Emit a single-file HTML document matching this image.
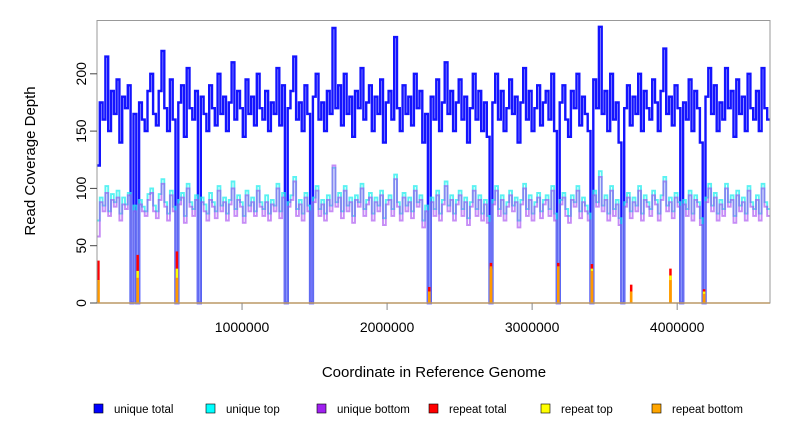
<!DOCTYPE html>
<html><head><meta charset="utf-8"><style>
body{margin:0;background:#fff;}
svg{display:block;font-family:"Liberation Sans",Arial,sans-serif;}
</style></head><body>
<svg id="chart" width="792" height="432" viewBox="0 0 792 432" xmlns="http://www.w3.org/2000/svg">
<g id="plot"></g>
<rect x="97" y="20.5" width="673" height="282.5" fill="none" stroke="#999" stroke-width="1"/>
<g id="axes"></g>
<text x="0" y="0" transform="translate(35,161) rotate(-90)" text-anchor="middle" font-size="15" fill="#000">Read Coverage Depth</text>
<text x="434" y="377" text-anchor="middle" font-size="15" fill="#000">Coordinate in Reference Genome</text>
<g id="legend"></g>
</svg>
<script>
const binSize = 19333;
const yTicks = [0, 50, 100, 150, 200];
const xTicks = [1000000, 2000000, 3000000, 4000000];
const uniqueTotal = [120,175,160,215,150,185,165,195,140,180,170,190,0,165,0,175,160,150,185,200,
165,155,185,220,170,150,195,160,0,175,190,145,205,170,160,185,0,180,165,150,
190,170,155,200,165,180,150,175,210,160,185,170,145,195,165,180,155,200,170,160,
185,150,175,165,205,155,190,0,170,185,215,160,175,150,190,165,0,180,200,160,
175,150,185,165,240,170,190,155,200,165,180,145,185,170,205,160,175,190,150,180,
165,195,140,175,185,160,232,170,150,190,165,180,155,200,170,185,140,165,0,180,
160,195,150,175,210,165,185,150,175,195,160,180,140,170,200,160,185,150,175,145,
0,175,200,160,185,150,170,195,165,180,140,175,205,160,185,150,170,190,155,175,
185,160,200,150,0,175,190,160,145,185,170,200,155,180,165,150,0,195,170,241,
165,185,150,200,160,175,140,0,170,190,155,180,165,200,150,185,170,160,195,175,
150,185,222,165,180,155,190,170,0,175,160,195,150,185,170,140,0,180,205,165,
190,150,175,160,205,170,185,145,195,165,180,150,200,170,160,185,150,205,170,160];
const uniqueTop = [72,92,85,102,80,95,88,98,78,92,86,96,0,85,0,90,84,80,95,100,
85,80,95,108,88,78,98,84,0,90,96,76,104,88,82,94,0,92,86,78,
96,88,80,102,85,92,78,90,106,82,94,88,76,98,85,92,80,102,88,82,
94,78,90,85,104,80,96,0,88,94,110,82,90,78,96,85,0,92,102,82,
90,78,94,85,118,88,96,80,102,85,92,76,94,88,104,82,90,96,78,92,
85,98,74,90,94,82,112,88,78,96,85,92,80,102,88,94,72,85,0,92,
82,98,78,90,106,85,94,78,90,98,82,92,74,88,102,82,94,78,90,76,
0,90,102,82,94,78,88,98,85,92,72,90,104,82,94,78,88,96,80,90,
94,82,102,78,0,90,96,82,76,94,88,102,80,92,85,78,0,98,88,115,
85,94,78,102,82,90,74,0,88,96,80,92,85,102,78,94,88,82,98,90,
78,94,110,85,92,80,96,88,0,90,82,98,78,94,88,74,0,92,104,85,
96,78,90,82,104,88,94,76,98,85,92,78,102,88,82,94,78,104,88,82];
const uniqueBottom = [58,88,80,96,76,90,84,92,72,86,82,94,0,80,0,86,80,76,90,96,
80,74,90,104,84,72,94,80,0,86,92,70,100,84,76,90,0,88,80,72,
90,84,74,98,80,88,72,86,100,76,90,84,70,94,80,88,76,98,84,76,
88,72,86,80,100,74,92,0,84,90,106,76,86,72,92,80,0,88,98,76,
86,72,90,80,120,84,92,74,98,80,88,70,90,84,100,76,86,92,72,88,
80,94,68,86,90,76,108,84,72,92,80,88,74,98,84,90,66,80,0,88,
76,94,72,86,102,80,90,72,86,94,76,88,68,84,98,76,90,72,86,70,
0,86,98,76,90,72,84,94,80,88,66,86,100,76,90,72,84,92,74,86,
90,76,98,72,0,86,92,76,70,90,84,98,74,88,80,72,0,94,84,110,
80,90,72,98,76,86,68,0,84,92,74,88,80,98,72,90,84,76,94,86,
72,90,106,80,88,74,92,84,0,86,76,94,72,90,84,68,0,88,100,80,
92,72,86,76,100,84,90,70,94,80,88,72,98,84,76,90,72,100,84,76];
const repeatBins = [0,14,28,118,140,164,176,190,204,216];
const repeatTotal = [37,42,45,14,35,35,34,16,30,12];
const repeatTop = [20,28,30,10,30,30,30,10,24,10];
const repeatBottom = [20,22,22,10,32,32,28,10,20,8];

const NS = "http://www.w3.org/2000/svg";
const X0 = 97, X1 = 770, XMAX = 4640000, Y0 = 303, YPER = 57.3/50;
function xs(v){ return X0 + (v / XMAX) * (X1 - X0); }
function ys(v){ return Y0 - v * YPER; }
function mk(tag, attrs, parent){ const e = document.createElementNS(NS, tag); for (const k in attrs) e.setAttribute(k, attrs[k]); parent.appendChild(e); return e; }
const plot = document.getElementById('plot');
const axes = document.getElementById('axes');
const legend = document.getElementById('legend');

function stepPath(arr){
  let d = '';
  arr.forEach((v, i) => {
    const xa = xs(i * binSize), xb = xs((i + 1) * binSize), y = ys(v);
    d += (i === 0 ? 'M' : 'L') + xa.toFixed(1) + ',' + y.toFixed(1) + 'L' + xb.toFixed(1) + ',' + y.toFixed(1);
  });
  return d;
}
const series = [
  [uniqueTotal, '#0000ff', 2.4, 0.92, 'unique-total-line'],
  [uniqueTop, '#22eeee', 1.9, 0.75, 'unique-top-line'],
  [uniqueBottom, '#a040f0', 1.9, 0.6, 'unique-bottom-line']
];
series.forEach(s => {
  const p = mk('path', {d: stepPath(s[0]), fill: 'none', stroke: s[1], 'stroke-width': s[2], 'stroke-opacity': s[3]}, plot);
  
  
});
const repSeries = [[repeatTotal, '#ff0000', 'repeat-total-bar'], [repeatTop, '#ffff00', 'repeat-top-bar'], [repeatBottom, '#ff9900', 'repeat-bottom-bar']];
repSeries.forEach(s => {
  repeatBins.forEach((b, i) => {
    const x = xs(b * binSize + binSize / 2);
    const l = mk('line', {x1: x, x2: x, y1: Y0, y2: ys(s[0][i]), stroke: s[1], 'stroke-width': 2.5}, plot);
    
    
  });
});
const base = mk('line', {x1: X0, x2: X1, y1: Y0, y2: Y0, stroke: '#ff9900', 'stroke-width': 1.5}, plot);



yTicks.forEach(t => {
  const y = ys(t);
  const l = mk('line', {x1: X0 - 7, x2: X0, y1: y, y2: y, stroke: '#444'}, axes);
  
  
  const tx = mk('text', {x: 0, y: 0, transform: 'translate(' + (X0 - 11) + ',' + y + ') rotate(-90)', 'text-anchor': 'middle', 'font-size': 14}, axes);
  tx.textContent = t;
  
  
});
xTicks.forEach(t => {
  const x = xs(t);
  const l = mk('line', {x1: x, x2: x, y1: Y0, y2: Y0 + 7, stroke: '#888'}, axes);
  
  
  const tx = mk('text', {x: x, y: 332, 'text-anchor': 'middle', 'font-size': 14}, axes);
  tx.textContent = t;
  
  
});
const legendLabels = ['unique total', 'unique top', 'unique bottom', 'repeat total', 'repeat top', 'repeat bottom'];
const legendColors = ['#0000ff', '#00ffff', '#a020f0', '#ff0000', '#ffff00', '#ffa500'];
const legendX = [94, 206, 317, 429, 541, 652];
legendLabels.forEach((lab, i) => {
  const r = mk('rect', {x: legendX[i], y: 404, width: 9, height: 9, fill: legendColors[i], stroke: '#000', 'stroke-width': 0.6}, legend);
  
  
  const tx = mk('text', {x: legendX[i] + 20, y: 413, 'font-size': 11.5}, legend);
  tx.textContent = lab;
  
  
});
</script>
</body></html>
